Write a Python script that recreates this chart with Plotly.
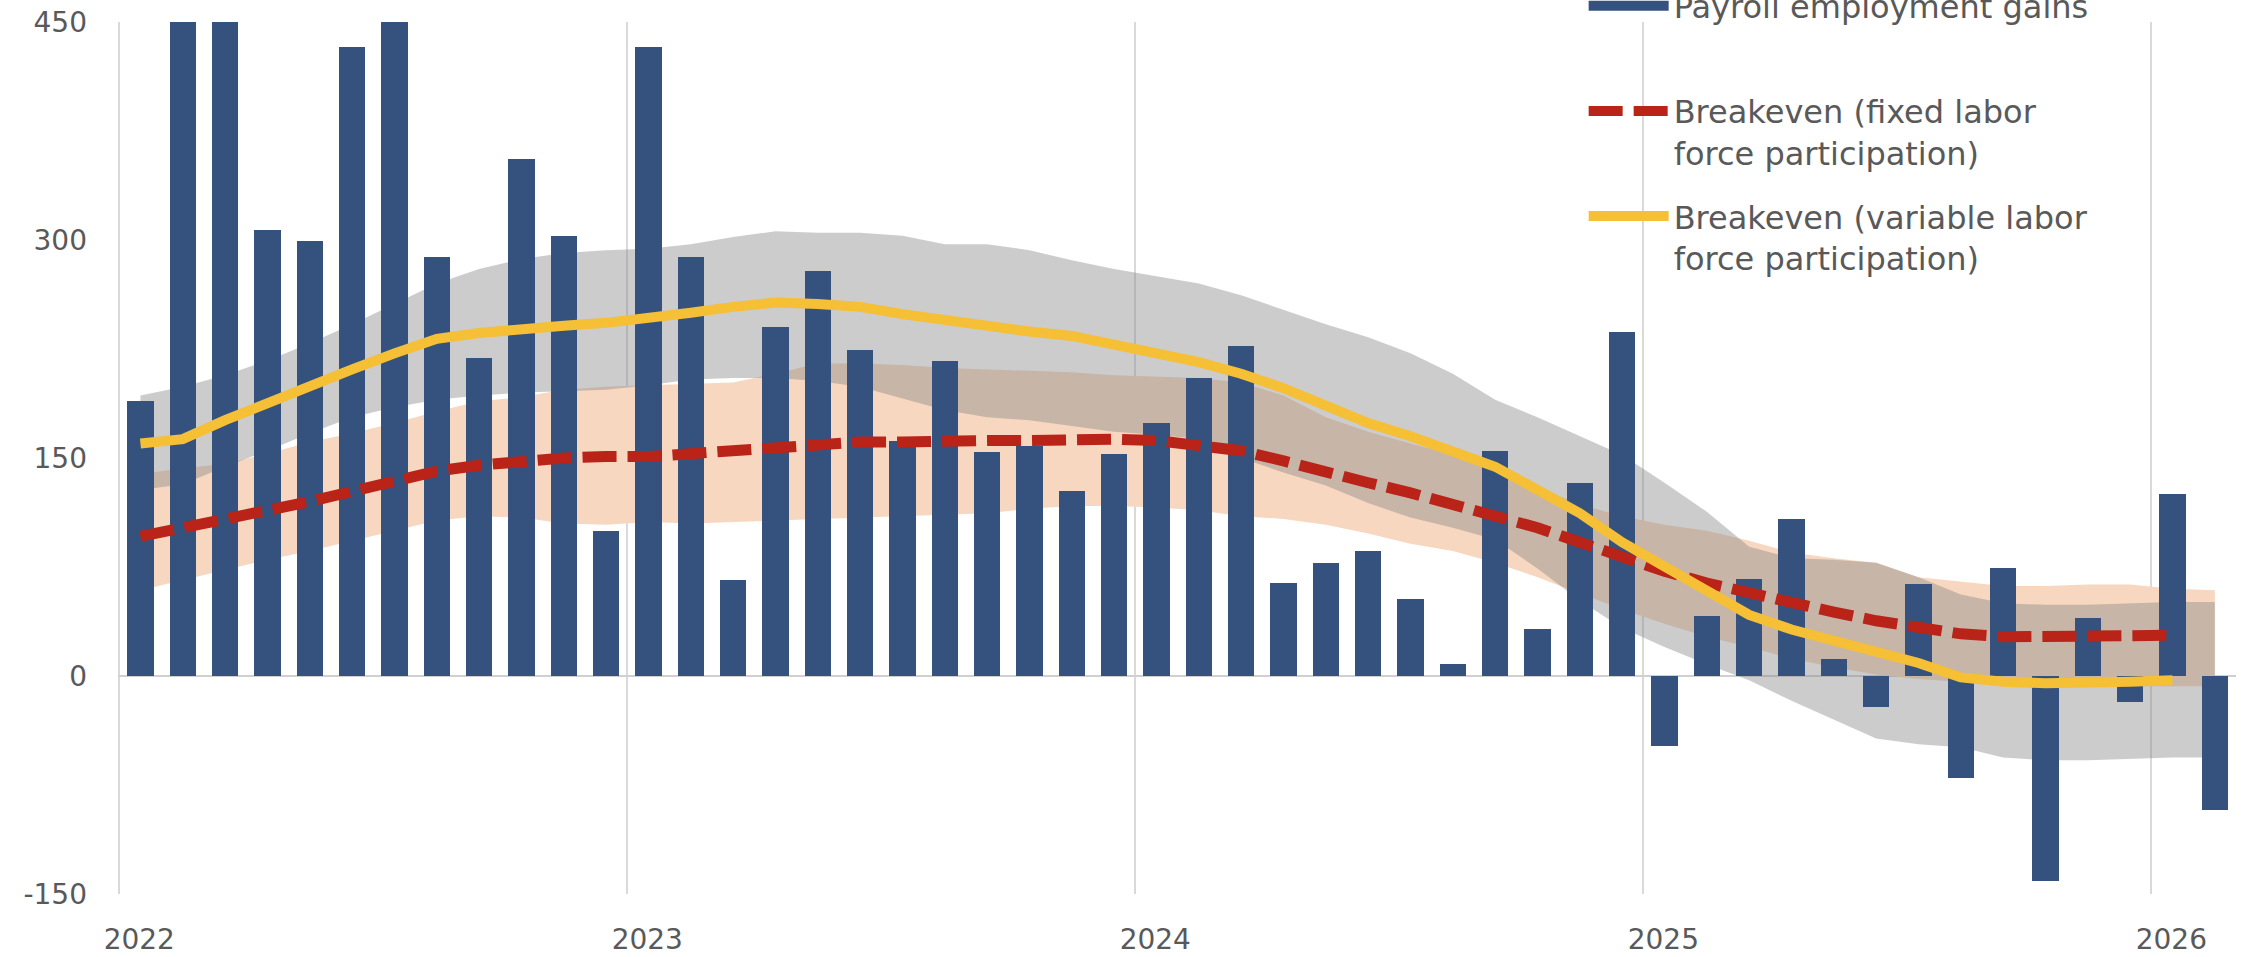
import plotly.graph_objects as go

# ---------------- data (monthly, Jan 2022 .. Feb 2026) ----------------
months = [f"{y}-{m:02d}" for y in range(2022, 2027) for m in range(1, 13)][:50]

payroll = [189, 520, 560, 307, 299, 433, 530, 288, 219, 356,
           303, 100, 433, 288, 66, 240, 279, 224, 162, 217,
           154, 158, 127, 153, 174, 205, 227, 64, 78, 86,
           53, 8, 155, 32, 133, 237, -48, 41, 67, 108,
           12, -21, 63, -70, 74, -141, 40, -18, 125, -92]

breakeven_variable = [160, 163, 176, 188, 200, 211, 222, 232, 236, 239, 241, 243, 246,
                      250, 254, 257, 256, 254, 249, 245, 240, 237, 234, 228, 221,
                      216, 208, 198, 186, 174, 165, 155, 144, 128, 112,
                      92, 75, 58, 42, 32, 24, 17, 9, -1, -4,
                      -5, -5, -4, -3]

breakeven_fixed = [96, 102, 107, 113, 120, 127, 134, 141, 145, 148, 150, 151, 151,
                   153, 155, 158, 160, 161, 161, 162, 162, 162, 163, 163, 162,
                   158, 155, 148, 140, 133, 126, 118, 110, 102, 92,
                   82, 72, 64, 57, 51, 44, 38, 33, 29, 27,
                   27, 28, 28, 28]

variable_upper = [193, 199, 207, 217, 229, 242, 256, 270, 280, 287,
                  291, 293, 294, 297, 302, 306, 305, 305, 303, 297,
                  297, 293, 286, 280, 275, 270, 262, 252, 242, 233,
                  222, 208, 190, 178, 165, 152, 133, 113, 89, 81,
                  80, 78, 68, 56, 50, 49, 49, 50, 51, 51]

variable_lower = [128, 132, 144, 155, 167, 178, 185, 190, 193, 195,
                  196, 197, 200, 204, 205, 205, 203, 199, 191, 183,
                  178, 176, 172, 168, 166, 163, 150, 140, 131, 119,
                  109, 102, 94, 74, 52, 33, 20, 8, -3, -17,
                  -30, -43, -47, -49, -56, -58, -58, -57, -56, -56]

fixed_upper = [139, 143, 146, 153, 161, 167, 174, 182, 189, 192,
               197, 199, 200, 201, 202, 208, 215, 215, 214, 212,
               211, 210, 209, 207, 206, 205, 202, 193, 178, 168,
               160, 152, 141, 130, 118, 110, 104, 100, 93, 85,
               81, 78, 68, 65, 62, 62, 63, 63, 60, 59]

fixed_lower = [59, 66, 73, 80, 86, 93, 100, 107, 110, 109,
               105, 104, 106, 105, 106, 107, 108, 109, 110, 111,
               112, 115, 117, 117, 116, 114, 110, 108, 104, 98,
               91, 86, 78, 68, 57, 46, 36, 27, 20, 12,
               6, 1, -2, -4, -5, -6, -7, -7, -7, -7]

year_labels = ["2022", "2023", "2024", "2025", "2026"]
y_ticks = [-150, 0, 150, 300, 450]
y_tick_labels = ["-150", "0", "150", "300", "450"]

# ---------------- positions ----------------
x_month = [i + 0.5 for i in range(len(months))]          # mid-month
x_line = x_month[:len(breakeven_fixed)]
year_pos = [12 * k for k in range(len(year_labels))]       # Jan 1 of each year
X_RANGE = [-0.03, 50]
Y_RANGE = [-150, 450]

FONT = "DejaVu Sans"
TXT = "#595959"
NAVY = "#34527d"
RED = "#b92318"
GOLD = "#f5bf36"

fig = go.Figure()

# uncertainty bands (main subplot -> drawn beneath bars)
fig.add_trace(go.Scatter(
    x=x_month + x_month[::-1], y=fixed_upper + fixed_lower[::-1],
    fill="toself", fillcolor="rgb(247,215,192)", line=dict(width=0),
    mode="lines", showlegend=False, hoverinfo="skip", xaxis="x", yaxis="y"))
fig.add_trace(go.Scatter(
    x=x_month + x_month[::-1], y=variable_upper + variable_lower[::-1],
    fill="toself", fillcolor="rgba(134,134,134,0.42)", line=dict(width=0),
    mode="lines", showlegend=False, hoverinfo="skip", xaxis="x", yaxis="y"))

# bars and lines on overlay subplot (drawn above bands)
fig.add_trace(go.Bar(
    x=x_month, y=payroll, width=0.62, marker=dict(color=NAVY, line=dict(width=0)),
    showlegend=False, legendgroup="g1", name="Payroll employment gains",
    xaxis="x2", yaxis="y2"))
fig.add_trace(go.Scatter(
    x=[None], y=[None], mode="lines", line=dict(color=NAVY, width=10),
    name="Payroll employment gains<br> ", legendgroup="g1",
    xaxis="x2", yaxis="y2"))
fig.add_trace(go.Scatter(
    x=x_line, y=breakeven_fixed, mode="lines",
    line=dict(color=RED, width=11, dash="34px,11px"),
    name="Breakeven (fixed labor<br>force participation)", legendgroup="g2",
    xaxis="x2", yaxis="y2"))
fig.add_trace(go.Scatter(
    x=x_line, y=breakeven_variable, mode="lines",
    line=dict(color=GOLD, width=10),
    name="Breakeven (variable labor<br>force participation)", legendgroup="g3",
    xaxis="x2", yaxis="y2"))

axis_font = dict(family=FONT, size=28, color=TXT)

fig.update_layout(
    width=2254, height=957,
    margin=dict(l=118, r=18, t=22, b=63, autoexpand=False),
    paper_bgcolor="white", plot_bgcolor="white",
    font=dict(family=FONT, color=TXT),
    bargap=0,
    xaxis=dict(range=X_RANGE, tickmode="array", tickvals=year_pos, ticktext=year_labels,
               showgrid=True, gridcolor="#d9d9d9", gridwidth=1.5,
               zeroline=False, showline=False, ticks="",
               ticklabelshift=20, ticklabelstandoff=26, tickfont=axis_font),
    yaxis=dict(range=Y_RANGE, tickmode="array", tickvals=y_ticks, ticktext=y_tick_labels,
               showgrid=False, zeroline=True, zerolinecolor="#d0d0d0", zerolinewidth=2,
               showline=False, ticks="", ticklabelstandoff=30, tickfont=axis_font),
    xaxis2=dict(overlaying="x", range=X_RANGE, visible=False),
    yaxis2=dict(overlaying="y", range=Y_RANGE, visible=False),
    legend=dict(x=0.692, xanchor="left", y=1.05, yanchor="top",
                bgcolor="rgba(0,0,0,0)", borderwidth=0,
                font=dict(family=FONT, size=32, color=TXT),
                itemwidth=80, valign="top", traceorder="grouped", tracegroupgap=19),
)

fig.write_html("out.html", config={"displayModeBar": False},
               post_script="document.body.style.margin='0px';document.body.style.overflow='hidden';")
